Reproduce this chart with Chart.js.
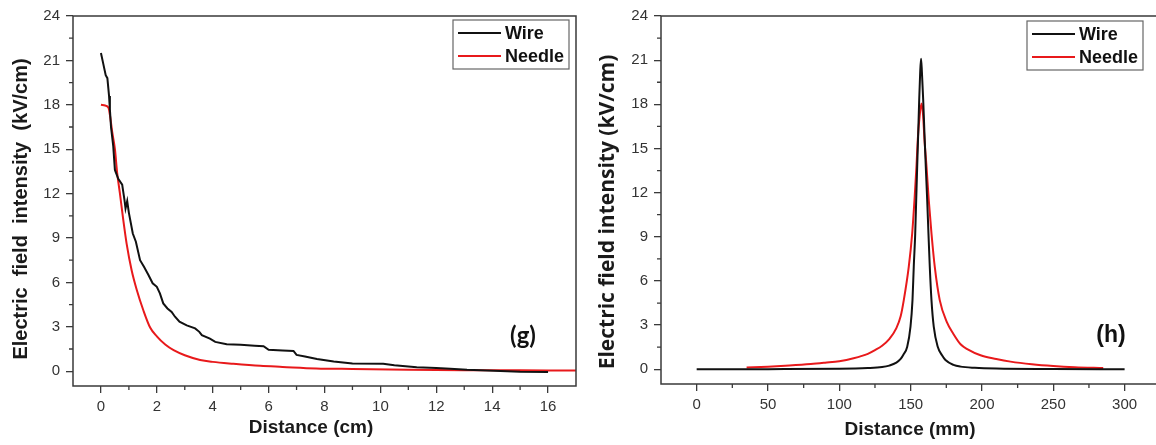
<!DOCTYPE html>
<html>
<head>
<meta charset="utf-8">
<script src="https://cdn.jsdelivr.net/npm/chart.js@4.4.1/dist/chart.umd.min.js"></script>
<style>
  html, body { margin: 0; padding: 0; background: #fff; }
  #wrap { position: relative; width: 1156px; height: 445px; overflow: hidden; }
  #chartG { position: absolute; left: 0; top: 0; }
  #chartH { position: absolute; left: 580px; top: 0; }
</style>
</head>
<body>
<div id="wrap">
  <canvas id="chartG" width="580" height="445"></canvas>
  <canvas id="chartH" width="576" height="445"></canvas>
</div>
<script>
// (g) field along the distance from the electrode, cm
const wireDistCm = [0, 0.08, 0.17, 0.23, 0.29, 0.32, 0.36, 0.44, 0.5, 0.62, 0.76, 0.84, 0.88, 0.94, 1.0,
  1.14, 1.25, 1.4, 1.54, 1.7, 1.85, 2.0, 2.11, 2.23, 2.38, 2.53, 2.65, 2.81, 3.07, 3.37, 3.52, 3.61,
  3.9, 4.09, 4.5, 5.0, 5.5, 5.82, 6.0, 6.5, 6.89, 7.0, 7.3, 7.73, 8.33, 9.0, 10.1, 10.5, 11.3, 12.0,
  12.5, 13.1, 14.3, 15.0, 16.0];
const wireFieldCm = [21.5, 20.8, 20.0, 19.8, 18.6, 17.7, 16.5, 15.2, 13.6, 13.0, 12.6, 11.6, 11.0, 11.5, 10.7,
  9.3, 8.75, 7.5, 7.06, 6.5, 5.94, 5.7, 5.26, 4.58, 4.24, 4.0, 3.68, 3.34, 3.1, 2.89, 2.66, 2.44,
  2.2, 1.98, 1.82, 1.78, 1.72, 1.69, 1.45, 1.4, 1.37, 1.1, 1.0, 0.82, 0.65, 0.52, 0.5, 0.4, 0.26, 0.22,
  0.17, 0.1, 0.02, -0.03, -0.05];
const needleDistCm = [0, 0.15, 0.27, 0.33, 0.4, 0.5, 0.58, 0.68, 0.8, 0.92, 1.1, 1.28, 1.52, 1.76, 2.0,
  2.3, 2.6, 3.0, 3.55, 4.0, 4.74, 5.7, 6.5, 7.7, 9.0, 11.0, 13.0, 15.0, 17.0];
const needleFieldCm = [18.0, 17.95, 17.8, 17.2, 16.2, 15.0, 13.4, 12.0, 10.2, 8.6, 6.8, 5.5, 4.1, 2.95, 2.35,
  1.8, 1.42, 1.08, 0.76, 0.63, 0.5, 0.36, 0.29, 0.19, 0.15, 0.1, 0.07, 0.06, 0.05];

// (h) field across the gap, mm
const wireDistMm = [0, 50, 100, 120, 130, 135, 140, 143, 145, 147.6, 149.9, 151.3, 152.2, 153.2, 153.9,
  154.6, 155.3, 156.0, 156.7, 157.3, 157.9, 158.8, 159.7, 160.6, 161.6, 162.5, 163.4, 164.6, 166.2,
  169.0, 172.0, 174.4, 180, 185, 195, 210, 250, 300];
const wireFieldMm = [0, 0.01, 0.03, 0.08, 0.15, 0.25, 0.45, 0.7, 1.0, 1.53, 2.9, 4.7, 7.0, 9.2, 11.5,
  13.8, 16.0, 18.3, 20.2, 21.1, 20.2, 18.3, 16.0, 13.8, 11.5, 9.2, 7.0, 4.7, 2.9,
  1.53, 0.95, 0.63, 0.3, 0.18, 0.1, 0.05, 0.02, 0];
const needleDistMm = [35, 50, 65, 80, 90, 100, 110, 120, 125, 130, 135, 140, 143, 145.2, 148.7, 151.1,
  152.7, 154.1, 155.0, 156.3, 157.6, 158.7, 159.7, 161.1, 162.7, 164.6, 166.9, 170.4, 175.4, 180,
  185, 190, 199, 210, 220, 235, 250, 265, 285];
const needleFieldMm = [0.12, 0.18, 0.26, 0.36, 0.45, 0.55, 0.75, 1.05, 1.3, 1.6, 2.05, 2.8, 3.6, 4.7, 6.97, 9.24,
  11.5, 13.8, 15.6, 17.2, 18.05, 17.3, 15.6, 13.8, 11.5, 9.24, 6.97, 4.7, 3.2, 2.4,
  1.7, 1.35, 0.95, 0.7, 0.52, 0.34, 0.22, 0.14, 0.08];

const seriesNames = ['Wire', 'Needle'];
const seriesColors = ['#111111', '#e8191b'];

const yTicks = [0, 3, 6, 9, 12, 15, 18, 21, 24];
const yMinor = [1.5, 4.5, 7.5, 10.5, 13.5, 16.5, 19.5, 22.5];
const xTicksCm = [0, 2, 4, 6, 8, 10, 12, 14, 16];
const xMinorCm = [1, 3, 5, 7, 9, 11, 13, 15];
const xTicksMm = [0, 50, 100, 150, 200, 250, 300];
const xMinorMm = [25, 75, 125, 175, 225, 275];

const toPoints = (xs, ys) => xs.map((v, i) => ({ x: v, y: ys[i] }));

const tickFont = { family: '"Liberation Sans", Arial, sans-serif', size: 15 };
const inkColor = '#3a3a3a';

// frame, minor ticks, legend box, titles and panel letter
const framePlugin = {
  id: 'frame',
  afterDraw(chart, args, o) {
    const { ctx, chartArea: a, scales } = chart;
    const xs = scales.x, ys = scales.y;
    ctx.save();
    ctx.strokeStyle = inkColor;
    ctx.lineWidth = 1.5;
    ctx.beginPath();
    ctx.moveTo(a.left, a.top); ctx.lineTo(a.left, a.bottom);
    ctx.moveTo(a.left - 0.75, a.bottom); ctx.lineTo(a.right, a.bottom);
    ctx.moveTo(a.left - 0.75, a.top); ctx.lineTo(a.right, a.top);
    if (o.closed) { ctx.moveTo(a.right, a.top - 0.75); ctx.lineTo(a.right, a.bottom + 0.75); }
    ctx.stroke();

    ctx.lineWidth = 1.3;
    ctx.beginPath();
    o.xMinor.forEach(v => {
      const px = xs.getPixelForValue(v);
      ctx.moveTo(px, a.bottom); ctx.lineTo(px, a.bottom + 4);
    });
    o.yMinor.forEach(v => {
      const py = ys.getPixelForValue(v);
      ctx.moveTo(a.left - 4, py); ctx.lineTo(a.left, py);
    });
    ctx.stroke();

    // legend
    const L = o.legend;
    ctx.fillStyle = '#fff';
    ctx.fillRect(L.x, L.y, L.w, L.h);
    ctx.strokeStyle = '#666';
    ctx.lineWidth = 1.2;
    ctx.strokeRect(L.x, L.y, L.w, L.h);
    ctx.font = 'bold 18px "Liberation Sans", Arial, sans-serif';
    ctx.textBaseline = 'middle';
    ctx.textAlign = 'left';
    chart.data.datasets.forEach((ds, i) => {
      const ry = L.y + 13 + i * 23;
      ctx.strokeStyle = ds.borderColor;
      ctx.lineWidth = 2;
      ctx.beginPath();
      ctx.moveTo(L.x + 5, ry); ctx.lineTo(L.x + 48, ry);
      ctx.stroke();
      ctx.fillStyle = '#111';
      ctx.fillText(ds.label, L.x + 52, ry + 1);
    });

    // axis titles
    ctx.fillStyle = '#1a1a1a';
    ctx.textAlign = 'center';
    ctx.font = 'bold 19px "Liberation Sans", Arial, sans-serif';
    ctx.fillText(o.xTitle, o.xTitlePos[0], o.xTitlePos[1]);
    ctx.save();
    ctx.translate(o.yTitlePos[0], o.yTitlePos[1]);
    ctx.rotate(-Math.PI / 2);
    ctx.font = o.yTitleFont;
    ctx.fillText(o.yTitle, 0, 0);
    ctx.restore();

    // panel letter
    ctx.font = o.panelFont;
    ctx.fillStyle = '#111';
    ctx.fillText(o.panel, o.panelPos[0], o.panelPos[1]);
    ctx.restore();
  }
};

function makeAxes(xMin, xMax, xTicks, yWidth, xHeight) {
  const grid = { display: true, drawOnChartArea: false, drawTicks: true, tickLength: 7, color: inkColor, lineWidth: 1.3 };
  return {
    x: {
      type: 'linear', min: xMin, max: xMax,
      afterBuildTicks: s => { s.ticks = xTicks.map(v => ({ value: v })); },
      afterFit: s => { s.height = xHeight; },
      grid: grid, border: { display: false },
      ticks: { font: tickFont, color: '#333', padding: 5, autoSkip: false, maxRotation: 0 }
    },
    y: {
      type: 'linear', min: -1, max: 24,
      afterBuildTicks: s => { s.ticks = yTicks.map(v => ({ value: v })); },
      afterFit: s => { s.width = yWidth; },
      grid: grid, border: { display: false },
      ticks: { font: tickFont, color: '#333', padding: 6, autoSkip: false }
    }
  };
}

function makeDatasets(wx, wy, nx, ny, smoothWire) {
  return [
    { label: seriesNames[0], data: toPoints(wx, wy), borderColor: seriesColors[0], borderWidth: 2,
      showLine: true, pointRadius: 0, cubicInterpolationMode: smoothWire ? 'monotone' : 'default', tension: 0 },
    { label: seriesNames[1], data: toPoints(nx, ny), borderColor: seriesColors[1], borderWidth: 2,
      showLine: true, pointRadius: 0, cubicInterpolationMode: 'monotone' }
  ];
}

const common = {
  responsive: false,
  animation: false,
  devicePixelRatio: 1,
  events: []
};

new Chart(document.getElementById('chartG'), {
  type: 'scatter',
  data: { datasets: makeDatasets(wireDistCm, wireFieldCm, needleDistCm, needleFieldCm, false) },
  options: Object.assign({}, common, {
    layout: { padding: { top: 16, right: 4, left: 0, bottom: 0 } },
    scales: makeAxes(-1, 17, xTicksCm, 73, 59),
    plugins: {
      legend: { display: false }, tooltip: { enabled: false },
      frame: {
        closed: true, xMinor: xMinorCm, yMinor: yMinor,
        legend: { x: 453, y: 20, w: 116, h: 49 },
        xTitle: 'Distance (cm)', xTitlePos: [311, 428],
        yTitle: 'Electric  field  intensity  (kV/cm)', yTitlePos: [21, 209],
        yTitleFont: 'bold 20px "Liberation Sans", Arial, sans-serif',
        panel: '(g)', panelPos: [523, 336], panelFont: 'bold 24px Lato, "Open Sans", sans-serif'
      }
    }
  }),
  plugins: [framePlugin]
});

new Chart(document.getElementById('chartH'), {
  type: 'scatter',
  data: { datasets: makeDatasets(wireDistMm, wireFieldMm, needleDistMm, needleFieldMm, true) },
  options: Object.assign({}, common, {
    layout: { padding: { top: 16, right: 0, left: 0, bottom: 0 } },
    scales: makeAxes(-25, 322, xTicksMm, 81, 61),
    plugins: {
      legend: { display: false }, tooltip: { enabled: false },
      frame: {
        closed: false, xMinor: xMinorMm, yMinor: yMinor,
        legend: { x: 447, y: 21, w: 116, h: 49 },
        xTitle: 'Distance (mm)', xTitlePos: [330, 430],
        yTitle: 'Electric field intensity (kV/cm)', yTitlePos: [28, 212],
        yTitleFont: 'bold 21px "Open Sans", "Liberation Sans", sans-serif',
        panel: '(h)', panelPos: [531, 336], panelFont: 'bold 23px "Liberation Sans", Arial, sans-serif'
      }
    }
  }),
  plugins: [framePlugin]
});
</script>
</body>
</html>
